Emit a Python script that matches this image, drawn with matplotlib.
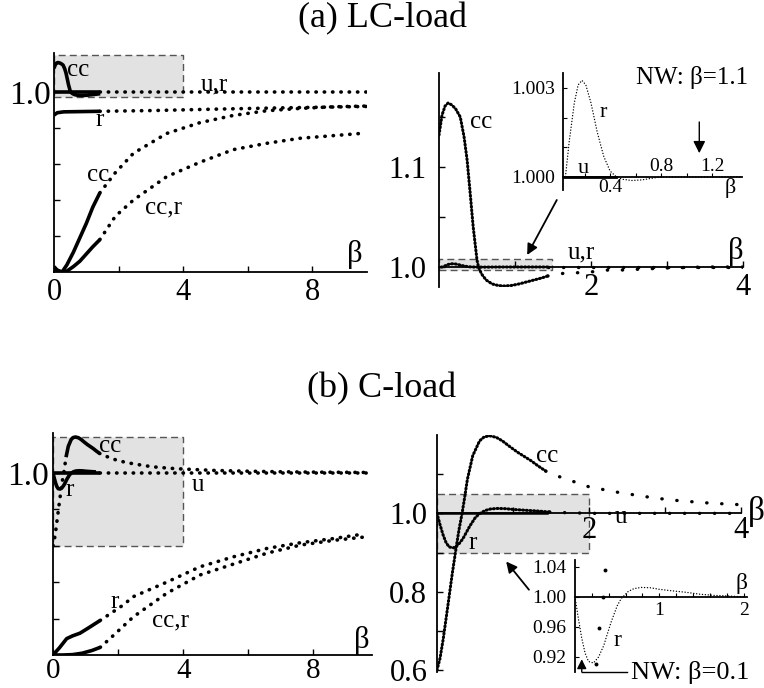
import numpy as np
import matplotlib
matplotlib.use("Agg")
import matplotlib.pyplot as plt
from matplotlib.patches import Rectangle

plt.rcParams["font.family"] = ["Liberation Serif", "DejaVu Serif"]

# ---------------- (a) LC-load ----------------
a_ur_x = [0.0, 1.43, 9.7]
a_ur_y = [1.0, 1.0, 1.0]

a_cc_x = [0.0, 0.04, 0.08, 0.12, 0.17, 0.22, 0.28, 0.33, 0.37, 0.41, 0.45, 0.50, 0.52,
          0.56, 0.62, 0.70, 0.78, 0.85, 0.95, 1.05, 1.15, 1.25, 1.35, 1.43, 1.64, 1.83,
          2.03, 2.23, 2.42, 2.7, 3.0, 3.5, 4.0]
a_cc_y = [1.132, 1.152, 1.161, 1.164, 1.162, 1.158, 1.150, 1.130, 1.107, 1.074, 1.040,
          1.007, 1.0, 0.993, 0.987, 0.983, 0.9815, 0.981, 0.9815, 0.983, 0.985, 0.987,
          0.989, 0.991, 0.9937, 0.9943, 0.9953, 0.997, 0.997, 0.998, 0.999, 1.0, 1.0]

a_r_x = [0.0, 0.1, 0.3, 1.42, 3.0, 5.0, 7.0, 9.7]
a_r_y = [0.872, 0.885, 0.89, 0.893, 0.897, 0.905, 0.912, 0.92]

a_cclo_x = [0.0, 0.1, 0.25, 0.4, 0.6, 0.8, 1.0, 1.2, 1.42, 1.89, 2.46, 3.49, 4.52, 5.55,
            6.58, 7.61, 8.64, 9.6]
a_cclo_y = [0.03, 0.01, 0.0, 0.04, 0.11, 0.19, 0.27, 0.36, 0.44, 0.55, 0.66, 0.77, 0.83,
            0.87, 0.896, 0.909, 0.918, 0.922]

a_ccr_x = [0.0, 0.2, 0.4, 0.6, 0.8, 1.0, 1.2, 1.42, 1.9, 2.46, 3.49, 4.52, 5.55, 6.58,
           7.61, 9.5]
a_ccr_y = [0.02, 0.0, 0.005, 0.03, 0.06, 0.1, 0.14, 0.18, 0.31, 0.40, 0.53, 0.61, 0.68,
           0.715, 0.743, 0.77]

# zoomed r and u (inset)
a_rz_x = [0.03, 0.05, 0.08, 0.12, 0.15, 0.18, 0.21, 0.25, 0.30, 0.35, 0.40, 0.45, 0.50,
          0.57, 0.65, 0.72, 0.80, 1.0, 1.2, 1.43, 2.0, 3.0, 4.0]
a_rz_y = [1.0, 1.0, 1.0012, 1.0025, 1.0031, 1.00325, 1.0031, 1.0025, 1.0015, 1.0007,
          1.0002, 1.0, 0.99992, 0.99988, 0.9999, 0.99995, 1.0, 1.0, 1.0, 1.0, 1.0, 1.0, 1.0]
a_uz_x = [0.03, 0.45]
a_uz_y = [1.0, 1.0]

# ---------------- (b) C-load ----------------
b_u_x = [0.0, 1.45, 9.7]
b_u_y = [1.0, 1.0, 1.0]

b_cc_x = [0.0, 0.04, 0.08, 0.14, 0.20, 0.25, 0.29, 0.33, 0.36, 0.40, 0.47, 0.56, 0.62,
          0.69, 0.78, 0.86, 0.96, 1.06, 1.15, 1.24, 1.33, 1.43, 1.63, 1.83, 2.01, 2.21,
          2.4, 2.6, 2.8, 3.0, 3.2, 3.4, 3.6, 3.8, 4.0, 5.0, 6.0, 7.0, 8.0, 9.0, 9.7]
b_cc_y = [0.60, 0.63, 0.677, 0.76, 0.845, 0.91, 0.959, 1.0, 1.036, 1.087, 1.147, 1.185,
          1.195, 1.198, 1.194, 1.185, 1.17, 1.156, 1.145, 1.134, 1.121, 1.108, 1.092,
          1.079, 1.067, 1.06, 1.053, 1.047, 1.041, 1.036, 1.032, 1.029, 1.026, 1.024,
          1.022, 1.014, 1.01, 1.007, 1.005, 1.004, 1.003]

b_r_x = [0.0, 0.04, 0.08, 0.12, 0.16, 0.22, 0.28, 0.34, 0.43, 0.50, 0.55, 0.63, 0.70,
         0.79, 0.9, 1.0, 1.15, 1.32, 1.48, 1.64, 1.84, 2.0, 4.0]
b_r_y = [1.0, 0.971, 0.945, 0.925, 0.914, 0.912, 0.92, 0.935, 0.967, 0.988, 0.998, 1.007,
         1.011, 1.0125, 1.012, 1.010, 1.008, 1.006, 1.0035, 1.002, 1.001, 1.0, 1.0]

b_rlo_x = [0.0, 0.2, 0.42, 0.6, 0.83, 1.1, 1.45, 2.16, 2.46, 3.49, 4.52, 5.55, 6.58, 7.6,
           8.62, 9.55]
b_rlo_y = [0.0, 0.04, 0.09, 0.105, 0.12, 0.15, 0.19, 0.275, 0.32, 0.40, 0.485, 0.54,
           0.586, 0.617, 0.64, 0.665]

b_ccr_x = [0.0, 0.3, 0.6, 0.9, 1.2, 1.45, 1.75, 2.47, 3.5, 4.52, 5.55, 6.58, 7.6, 8.62,
           9.55]
b_ccr_y = [0.0, 0.0, 0.002, 0.01, 0.025, 0.042, 0.09, 0.21, 0.34, 0.44, 0.50, 0.56,
           0.604, 0.63, 0.648]

W, H = 764, 688
fig = plt.figure(figsize=(W / 100, H / 100), dpi=100)

BOX = dict(facecolor="#e2e2e2", edgecolor="#555555", ls=(0, (5, 3)), lw=1.0, zorder=0)
SOLID = dict(color="k", lw=2.6, solid_capstyle="butt")
DOTS = dict(color="k", lw=2.6, ls=(0, (0.1, 2.2)), dash_capstyle="round")
DENSE = dict(color="k", lw=2.2, ls=(0, (0.3, 0.9)), dash_capstyle="round")
SPARSE = dict(color="k", lw=2.4, ls=(0, (0.1, 4.4)), dash_capstyle="round")
FINE = dict(color="k", lw=1.0, ls=(0, (0.1, 2.0)), dash_capstyle="round")
TICK = 22


def axes_px(left, top, right, bottom):
    return fig.add_axes([left / W, 1 - bottom / H, (right - left) / W, (bottom - top) / H])


def setup(ax, xlim, ylim, x_at, size=TICK):
    ax.set_xlim(*xlim)
    ax.set_ylim(*ylim)
    ax.set_facecolor("none")
    ax.spines["top"].set_visible(False)
    ax.spines["right"].set_visible(False)
    ax.spines["bottom"].set_position(("data", x_at))
    ax.spines["left"].set_linewidth(1.3)
    ax.spines["bottom"].set_linewidth(1.3)
    ax.tick_params(direction="in", length=4, width=1, labelsize=size)


def piece(ax, x, y, lo, hi, style):
    x = np.asarray(x)
    y = np.asarray(y)
    m = (x >= lo) & (x <= hi)
    ax.plot(x[m], y[m], **style)


def lab(ax, x, y, s, size=18, **kw):
    ax.text(x, y, s, fontsize=size, ha="center", va="center", clip_on=False, **kw)


def arrow(ax, tail, head, lw=1.3, ms=16):
    ax.annotate("", xy=head, xytext=tail,
                arrowprops=dict(arrowstyle="-|>", color="k", lw=lw, mutation_scale=ms,
                                shrinkA=0, shrinkB=0), annotation_clip=False)


fig.text(0.5, 1 - 27 / H, "(a) LC-load", fontsize=26, ha="center", va="baseline")
fig.text(0.5, 1 - 397 / H, "(b) C-load", fontsize=26, ha="center", va="baseline")

# ---- (a) left ----
ax = axes_px(54, 53, 367, 272)
setup(ax, (0, 9.69), (0, 1.217), 0)
ax.set_xticks([0, 2, 4, 6, 8], ["0", "", "4", "", "8"])
ax.set_yticks([0.2, 0.4, 0.6, 0.8, 1.0], ["", "", "", "", "1.0"])
ax.tick_params(axis="x", pad=4)
ax.tick_params(axis="y", pad=2, labelsize=24)
ax.add_patch(Rectangle((0, 0.97), 4, 0.235, **BOX))
piece(ax, a_ur_x, a_ur_y, 0, 1.43, SOLID)
piece(ax, a_ur_x, a_ur_y, 1.43, 10, DOTS)
piece(ax, a_cc_x, a_cc_y, 0, 1.43, SOLID)
piece(ax, a_r_x, a_r_y, 0, 1.42, SOLID)
piece(ax, a_r_x, a_r_y, 1.42, 10, DOTS)
piece(ax, a_cclo_x, a_cclo_y, 0, 1.42, SOLID)
piece(ax, a_cclo_x, a_cclo_y, 1.42, 10, DOTS)
piece(ax, a_ccr_x, a_ccr_y, 0, 1.42, SOLID)
piece(ax, a_ccr_x, a_ccr_y, 1.42, 10, DOTS)
lab(ax, 0.75, 1.12, "cc")
lab(ax, 4.95, 1.04, "u,r")
lab(ax, 1.42, 0.845, "r")
lab(ax, 1.36, 0.54, "cc")
lab(ax, 3.4, 0.36, "cc,r")
lab(ax, 9.3, 0.1, "β", size=22)

# ---- (a) right ----
ax = axes_px(439, 73, 743, 287)
setup(ax, (0, 4.0), (0.98, 1.194), 1.0)
ax.set_xticks([1, 2, 3, 4], ["", "2", "", "4"])
ax.set_yticks([1.0, 1.05, 1.1, 1.15], ["1.0", "", "1.1", ""])
ax.tick_params(axis="x", pad=4)
ax.tick_params(axis="y", pad=9)
ax.add_patch(Rectangle((0, 0.997), 1.49, 0.011, **BOX))
piece(ax, a_ur_x, a_ur_y, 1.43, 10, SPARSE)
piece(ax, a_rz_x, a_rz_y, 0, 1.43, DENSE)
piece(ax, a_cc_x, a_cc_y, 0, 1.43, DENSE)
piece(ax, a_cc_x, a_cc_y, 1.43, 4, SPARSE)
lab(ax, 0.55, 1.145, "cc")
lab(ax, 1.87, 1.015, "u,r")
lab(ax, 3.9, 1.015, "β", size=22)
arrow(ax, (1.55, 1.067), (1.16, 1.012))

# ---- (a) inset ----
ax = axes_px(563, 73, 742, 190)
setup(ax, (0.031, 1.435), (0.99956, 1.0035), 1.0, size=14)
ax.set_xticks([0.2, 0.4, 0.6, 0.8, 1.0, 1.2], [])
ax.set_yticks([1.0, 1.001, 1.002, 1.003], ["1.000", "", "", "1.003"])
ax.tick_params(length=3, width=0.8)
ax.tick_params(axis="y", pad=6)
piece(ax, a_uz_x, a_uz_y, 0, 1, dict(color="k", lw=2.0))
piece(ax, a_rz_x, a_rz_y, 0, 1.435, FINE)
lab(ax, 0.4, 0.99963, "0.4", size=14)
lab(ax, 0.8, 1.00034, "0.8", size=14)
lab(ax, 1.2, 1.00034, "1.2", size=14)
lab(ax, 0.19, 1.0003, "u", size=16)
lab(ax, 0.35, 1.00216, "r", size=16)
lab(ax, 1.34, 0.99963, "β", size=16)
lab(ax, 1.04, 1.00334, "NW: β=1.1", size=18)
arrow(ax, (1.1, 1.00185), (1.1, 1.0008), lw=1.0, ms=18)

# ---- (b) left ----
ax = axes_px(53, 433, 372, 655)
setup(ax, (0, 9.8), (0, 1.22), 0)
ax.set_xticks([0, 2, 4, 6, 8], ["0", "", "4", "", "8"])
ax.set_yticks([0.2, 0.4, 0.6, 0.8, 1.0], ["", "", "", "", "1.0"])
ax.tick_params(axis="x", pad=2, labelsize=21)
ax.tick_params(axis="y", pad=3, labelsize=24)
ax.add_patch(Rectangle((0, 0.6), 4, 0.6, **BOX))
piece(ax, b_u_x, b_u_y, 0, 1.45, SOLID)
piece(ax, b_u_x, b_u_y, 1.45, 10, DOTS)
piece(ax, b_cc_x, b_cc_y, 0, 0.40, DOTS)
piece(ax, b_cc_x, b_cc_y, 0.40, 1.43, SOLID)
piece(ax, b_cc_x, b_cc_y, 1.43, 10, DOTS)
piece(ax, b_r_x, b_r_y, 0, 1.45, SOLID)
piece(ax, b_rlo_x, b_rlo_y, 0, 1.45, SOLID)
piece(ax, b_rlo_x, b_rlo_y, 1.45, 10, DOTS)
piece(ax, b_ccr_x, b_ccr_y, 0, 1.45, SOLID)
piece(ax, b_ccr_x, b_ccr_y, 1.45, 10, DOTS)
lab(ax, 1.75, 1.15, "cc")
lab(ax, 0.5, 0.905, "r")
lab(ax, 4.45, 0.935, "u")
lab(ax, 1.9, 0.29, "r")
lab(ax, 3.6, 0.19, "cc,r")
lab(ax, 9.5, 0.08, "β", size=22)

# ---- (b) right ----
ax = axes_px(437, 435, 741, 672)
setup(ax, (0, 4.0), (0.595, 1.20), 1.0)
ax.set_xticks([1, 2, 3, 4], ["", "2", "", "4"])
ax.set_yticks([0.6, 0.7, 0.8, 0.9, 1.0, 1.1], ["0.6", "", "0.8", "", "1.0", ""])
ax.tick_params(axis="x", pad=2)
ax.tick_params(axis="y", pad=7)
ax.add_patch(Rectangle((0, 0.9), 2, 0.149, **BOX))
piece(ax, b_u_x, b_u_y, 0, 4, dict(color="k", lw=1.8))
piece(ax, b_r_x, b_r_y, 0, 1.5, DENSE)
piece(ax, b_r_x, b_r_y, 1.48, 4, SPARSE)
piece(ax, b_cc_x, b_cc_y, 0, 1.43, DENSE)
piece(ax, b_cc_x, b_cc_y, 1.43, 4, SPARSE)
lab(ax, 1.45, 1.147, "cc")
lab(ax, 0.47, 0.925, "r")
lab(ax, 2.42, 0.99, "u")
lab(ax, 4.2, 1.005, "β", size=24)
arrow(ax, (1.21, 0.805), (0.91, 0.877))

# ---- (b) inset ----
ax = axes_px(575, 560, 747, 672)
setup(ax, (0, 2.04), (0.9, 1.049), 1.0, size=14)
ax.set_xticks([0.2, 0.4, 0.6, 0.8, 1.0, 1.2, 1.4, 1.6, 1.8, 2.0],
              ["", "", "", "", "1", "", "", "", "", "2"])
ax.set_yticks([0.92, 0.96, 1.0, 1.04], ["0.92", "0.96", "1.00", "1.04"])
ax.tick_params(length=3, width=0.8)
ax.tick_params(axis="y", pad=6)
ax.tick_params(axis="x", pad=4)
piece(ax, b_r_x, b_r_y, 0, 2.04, FINE)
ax.plot(b_cc_x, b_cc_y, ls="none", marker="o", ms=1.8, color="k")
lab(ax, 0.5, 0.942, "r", size=17)
lab(ax, 1.97, 1.018, "β", size=17)
ax.plot([0.08, 0.62], [0.9, 0.9], color="k", lw=1.0, clip_on=False)
arrow(ax, (0.08, 0.9), (0.08, 0.917), lw=1.0, ms=14)
ax.text(0.66, 0.9, "NW: β=0.1", fontsize=19, ha="left", va="center", clip_on=False)

fig.savefig("out.png", dpi=100)
